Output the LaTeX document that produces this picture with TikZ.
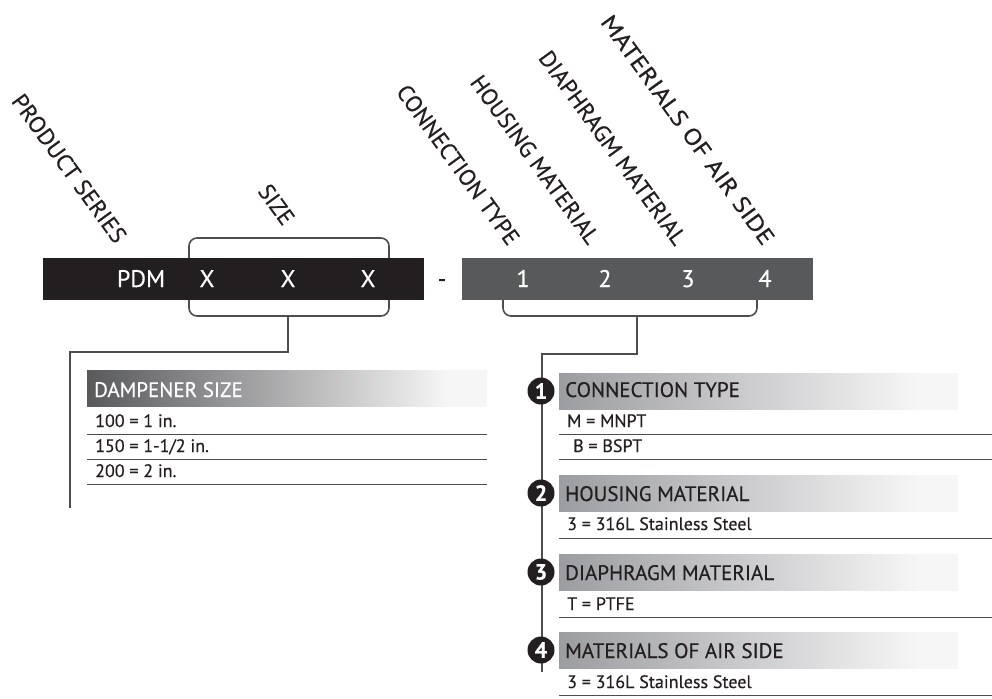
\documentclass[tikz,border=0pt]{standalone}
\usepackage{fontspec}
\setmainfont{PT Sans}[FakeBold=0.4]
\definecolor{barblack}{HTML}{231F20}
\definecolor{bargray}{HTML}{58595B}
\definecolor{linegray}{HTML}{4D4D4F}
\definecolor{hdrleft}{HTML}{9C9DA0}
\definecolor{hdrright}{HTML}{F6F6F6}
\pgfdeclarehorizontalshading{darkfade}{100bp}{color(0bp)=(bargray); color(25bp)=(bargray); color(70bp)=(hdrright); color(100bp)=(hdrright)}
\pgfdeclarehorizontalshading{lightfade}{100bp}{color(0bp)=(hdrleft); color(25bp)=(hdrleft); color(70bp)=(hdrright); color(100bp)=(hdrright)}
\begin{document}
\begin{tikzpicture}[x=1pt,y=-1pt,
  bar/.style={draw=none,inner sep=0,anchor=north west,minimum height=42},
  bartext/.style={text=white,font=\fontsize{24}{24}\selectfont,inner sep=0,anchor=base},
  rotlab/.style={rotate=-54,anchor=base east,inner sep=0,text=barblack,font=\fontsize{23}{23}\selectfont},
  conn/.style={draw=linegray,line width=1.6,rounded corners=8},
  stem/.style={draw=linegray,line width=1.6},
  hdr/.style={inner sep=0,anchor=north west,minimum height=36},
  hdrtext/.style={inner sep=0,anchor=base west,font=\fontsize{21}{21}\selectfont},
  rowtext/.style={inner sep=0,anchor=base west,text=barblack,font=\fontsize{18}{18}\selectfont},
  rowline/.style={draw=linegray,line width=1},
  num/.style={circle,fill=barblack,text=white,inner sep=0,minimum size=27,font=\bfseries\fontsize{22}{22}\selectfont}
]
\useasboundingbox (0,0) rectangle (992,698);
% bars
\node[bar,fill=barblack,minimum width=381] (blackbar) at (43,258) {};
\node[bar,fill=bargray,minimum width=351] (graybar) at (462,258) {};
\node[bartext] (pdm) at (141,287) {PDM};
\node[bartext] (x1) at (207,287) {X};
\node[bartext] (x2) at (288,287) {X};
\node[bartext] (x3) at (368,287) {X};
\node[bartext,text=barblack] (dash) at (442,287) {-};
\node[bartext] (n1) at (523,287) {1};
\node[bartext] (n2) at (605,287) {2};
\node[bartext] (n3) at (688,287) {3};
\node[bartext] (n4) at (765,287) {4};
% rotated labels
\node[rotlab] (lps) at (115,245) {\scalebox{1.03}[1]{PRODUCT SERIES}};
\node[rotlab] (lsz) at (283,227) {SIZE};
\node[rotlab] (lct) at (508,247) {CONNECTION TYPE};
\node[rotlab] (lhm) at (588,246) {HOUSING MATERIAL};
\node[rotlab] (ldm) at (675,247) {\scalebox{1.02}[1]{DIAPHRAGM MATERIAL}};
\node[rotlab] (las) at (763,247) {\scalebox{1.16}[1]{MATERIALS OF AIR SIDE}};
% brackets
\coordinate (sL) at (189,258); \coordinate (sR) at (389,258);
\coordinate (sLb) at (189,300); \coordinate (sRb) at (389,300);
\coordinate (cL) at (503,300); \coordinate (cR) at (757,300);
\draw[conn] (sL) -- (189,238) -- (389,238) -- (sR);
\draw[conn] (sLb) -- (189,316) -- (389,316) -- (sRb);
\draw[conn] (cL) -- (503,316) -- (757,316) -- (cR);
\coordinate (sStem) at (288,316);
\coordinate (cStem) at (637,316);
\coordinate (sEnd) at (70,508);
\coordinate (cEnd) at (542,672);
\draw[stem] (sStem) -- (288,352) -- (70,352) -- (sEnd);
\draw[stem] (cStem) -- (637,354) -- (542,354) -- (cEnd);
% dampener size table
\node[hdr,shading=darkfade,minimum width=400] (hds) at (87,370) {};
\node[hdrtext,text=white] (tds) at (94,397) {DAMPENER SIZE};
\node[rowtext] (r11) at (95,427) {100 = 1 in.};
\node[rowtext] (r12) at (95,452) {150 = 1-1/2 in.};
\node[rowtext] (r13) at (95,477) {200 = 2 in.};
\draw[rowline] (87,434) -- (487,434);
\draw[rowline] (87,459) -- (487,459);
\draw[rowline] (87,484) -- (487,484);
% right tables
\node[hdr,shading=lightfade,minimum width=399] (hct) at (559,373) {};
\node[hdrtext,text=barblack] (tct) at (565,397) {CONNECTION TYPE};
\node[rowtext] (r21) at (567,427) {M = MNPT};
\node[rowtext] (r22) at (573,452) {B = BSPT};
\draw[rowline] (559,434) -- (992,434);
\draw[rowline] (559,459) -- (992,459);
\node[hdr,shading=lightfade,minimum width=399] (hhm) at (559,475) {};
\node[hdrtext,text=barblack] (thm) at (565,501) {HOUSING MATERIAL};
\node[rowtext] (r31) at (567,530) {3 = 316L Stainless Steel};
\draw[rowline] (559,538) -- (992,538);
\node[hdr,shading=lightfade,minimum width=399] (hdm) at (559,554) {};
\node[hdrtext,text=barblack] (tdm) at (565,580) {DIAPHRAGM MATERIAL};
\node[rowtext] (r41) at (567,610) {T = PTFE};
\draw[rowline] (559,617) -- (992,617);
\node[hdr,shading=lightfade,minimum width=399] (has) at (559,632) {};
\node[hdrtext,text=barblack] (tas) at (565,658) {MATERIALS OF AIR SIDE};
\node[rowtext] (r51) at (567,688) {3 = 316L Stainless Steel};
\draw[rowline] (559,695) -- (992,695);
% number circles
\node[num] (c1) at (541,391) {1};
\node[num] (c2) at (541,493) {2};
\node[num] (c3) at (541,572) {3};
\node[num] (c4) at (541,650) {4};
\end{tikzpicture}
\end{document}
